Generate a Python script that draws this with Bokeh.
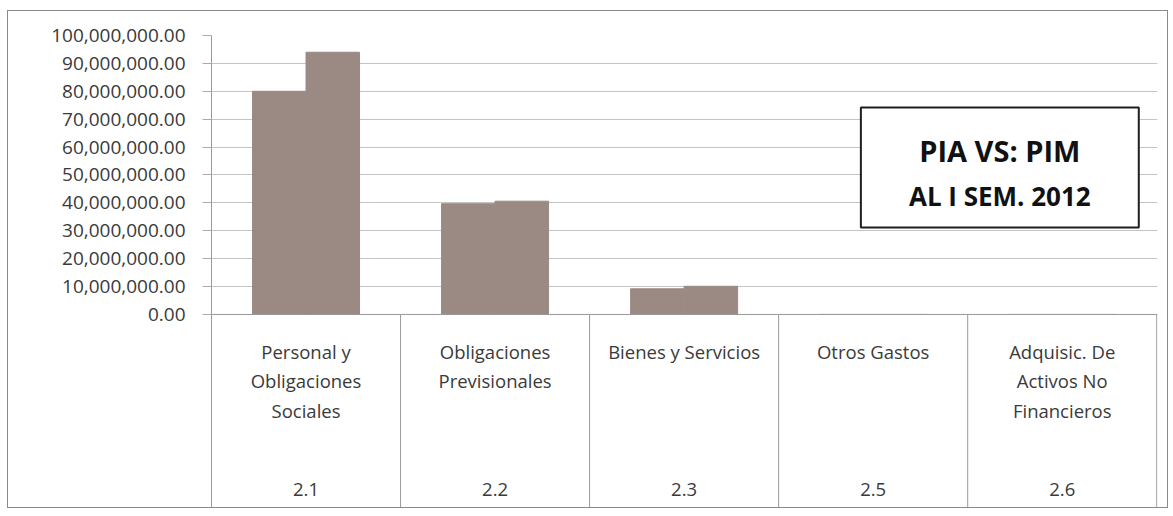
from bokeh.plotting import figure
from bokeh.models import Range1d, FixedTicker, NumeralTickFormatter, Span, ColumnDataSource, BoxAnnotation, Label
from bokeh.core.properties import value
from bokeh.embed import file_html
from bokeh.resources import INLINE

# ---- data ----
categories = ["Personal y\nObligaciones\nSociales", "Obligaciones\nPrevisionales",
              "Bienes y Servicios", "Otros Gastos", "Adquisic. De\nActivos No\nFinancieros"]
codes = ["2.1", "2.2", "2.3", "2.5", "2.6"]
pia = [80_000_000, 39_700_000, 9_200_000, 0, 0]
pim = [94_000_000, 40_600_000, 10_100_000, 0, 0]
y_ticks = [0, 10e6, 20e6, 30e6, 40e6, 50e6, 60e6, 70e6, 80e6, 90e6, 100e6]
title_lines = ["PIA VS: PIM", "AL I SEM. 2012"]

FONT = "Open Sans"
BAR = "#9b8a84"
n = len(categories)
bar_w = 0.283
y_bottom = -69.2e6

p = figure(width=1161, height=498, output_backend="svg", toolbar_location=None,
           x_range=Range1d(0, n + 0.004), y_range=Range1d(y_bottom, 100e6),
           x_axis_location=None, min_border_left=203, min_border_right=12,
           min_border_top=24, min_border_bottom=2,
           styles={"border": "1px solid #8a8a8a", "margin-top": "10px", "margin-left": "7px"})
p.outline_line_color = None
p.xgrid.grid_line_color = None
p.ygrid.grid_line_color = "#c4c4c4"
p.ygrid.ticker = FixedTicker(ticks=y_ticks)

ax = p.yaxis[0]
ax.ticker = FixedTicker(ticks=y_ticks)
ax.formatter = NumeralTickFormatter(format="0,0.00")
ax.major_label_text_font = FONT
ax.major_label_text_font_size = "19px"
ax.major_label_text_color = "#3a3a3a"
ax.major_tick_out = 9
ax.major_tick_in = 0
ax.minor_tick_line_color = None
ax.major_tick_line_color = "#aaaaaa"
ax.axis_line_color = "#9a9a9a"
ax.major_label_standoff = 17

# bars
xs = list(range(n))
src1 = ColumnDataSource(dict(x=[i + 0.5 - bar_w / 2 for i in xs], top=pia))
src2 = ColumnDataSource(dict(x=[i + 0.5 + bar_w / 2 for i in xs], top=pim))
p.vbar(x="x", top="top", bottom=0, width=bar_w, source=src1, fill_color=BAR, line_color=BAR)
p.vbar(x="x", top="top", bottom=0, width=bar_w, source=src2, fill_color=BAR, line_color=BAR)

# category table
p.add_layout(Span(location=0, dimension="width", line_color="#9a9a9a", line_width=1))
p.segment(x0=[i + 1 for i in xs], y0=[y_bottom] * n, x1=[i + 1 for i in xs], y1=[0] * n,
          line_color="#9a9a9a", line_width=1)

tx, ty, tt, toff = [], [], [], []
for i, cat in enumerate(categories):
    for j, line in enumerate(cat.split("\n")):
        tx.append(i + 0.5); ty.append(0); tt.append(line); toff.append(37 + 29.5 * j)
    tx.append(i + 0.5); ty.append(0); tt.append(codes[i]); toff.append(175)
p.text(x=tx, y=ty, text=tt, y_offset=toff, text_align="center", text_baseline="middle",
       text_font=value(FONT), text_font_size="18.5px", text_color="#3a3a3a")

# title box
p.add_layout(BoxAnnotation(left=3.435, right=4.905, top=74.2e6, bottom=31.2e6,
                           fill_color="white", fill_alpha=1, line_color="#1e1e1e",
                           line_alpha=1, line_width=2))
p.add_layout(Label(x=4.17, y=58.8e6, text=title_lines[0], text_align="center", text_baseline="middle",
                   text_font=FONT, text_font_style="bold", text_font_size="29px", text_color="#111111"))
p.add_layout(Label(x=4.17, y=42.3e6, text=title_lines[1], text_align="center", text_baseline="middle",
                   text_font=FONT, text_font_style="bold", text_font_size="26px", text_color="#111111"))

open("out.html", "w").write(file_html(p, INLINE))
